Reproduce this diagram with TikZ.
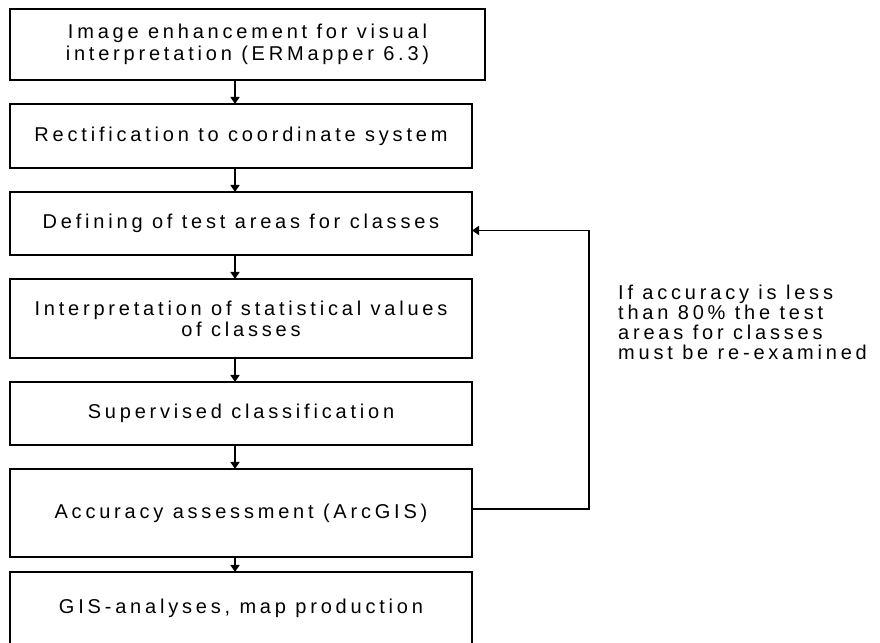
\documentclass[tikz,border=0pt]{standalone}
\usepackage{fontspec}
\setmainfont{Liberation Sans}[LetterSpace=19]
\usetikzlibrary{arrows.meta,positioning}
\tikzset{stage/.style={draw, line width=1.6pt, outer sep=0pt, minimum width=462pt, align=center, inner sep=2pt, font=\fontsize{20}{21}\selectfont}}
\tikzset{note/.style={align=left, anchor=west, inner sep=0pt, font=\fontsize{20}{20}\selectfont}}
\tikzstyle{arrow} = [-{Triangle[width=9pt,length=7pt]}, line width=1.4pt]

\begin{document}
\begin{tikzpicture}[x=1pt, y=1pt, node distance=24pt]
	\useasboundingbox (0,0) rectangle (880,642);
	% Nodes
	\node (enhance) [stage, minimum width=475pt, minimum height=71pt, font=\fontsize{20}{22}\selectfont, anchor=north west] at (10,633) {Image enhancement for visual\\ interpretation (ERMapper 6.3)};

	\node (rectify) [stage, minimum height=64pt, below=of enhance.south west, anchor=north west] {Rectification to coordinate system};

	\node (define) [stage, minimum height=63pt, below=of rectify] {Defining of test areas for classes};

	\node (statistic) [stage, minimum height=79pt, below=of define] {Interpretation of statistical values\\ of classes};

	\node (classify) [stage, minimum height=63pt, below=of statistic] {Supervised classification};

	\node (accuracy) [stage, minimum height=88pt, below=of classify] {Accuracy assessment (ArcGIS)};

	\node (gis) [stage, minimum height=72pt, below=15pt of accuracy] {GIS-analyses, map production};

	\node (remark) [note] at (618,320) {If accuracy is less\\ than 80\% the test\\ areas for classes\\ must be re-examined};

	% Connectors
	\draw [arrow] ([xshift=-6pt]rectify.north |- enhance.south) -- ([xshift=-6pt]rectify.north);
	\draw [arrow] ([xshift=-6pt]rectify.south) -- ([xshift=-6pt]define.north);
	\draw [arrow] ([xshift=-6pt]define.south) -- ([xshift=-6pt]statistic.north);
	\draw [arrow] ([xshift=-6pt]statistic.south) -- ([xshift=-6pt]classify.north);
	\draw [arrow] ([xshift=-6pt]classify.south) -- ([xshift=-6pt]accuracy.north);
	\draw [arrow] ([xshift=-6pt]accuracy.south) -- ([xshift=-6pt]gis.north);

	% Feedback loop
	\draw [arrow] ([yshift=4pt]accuracy.east) -- ++(117,0) |- ([yshift=-7pt]define.east);

\end{tikzpicture}
\end{document}
